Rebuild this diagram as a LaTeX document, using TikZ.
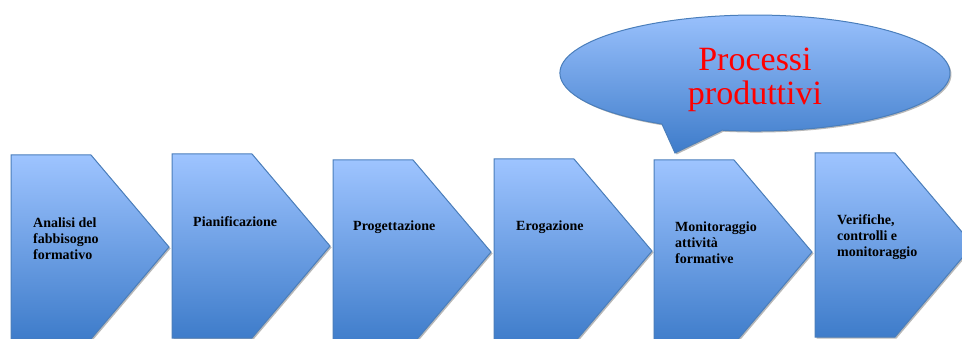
\documentclass[tikz,border=0pt]{standalone}
\usepackage{fontspec}
\setmainfont{Liberation Serif}
\usetikzlibrary{shadows}
\definecolor{boxtop}{RGB}{158,196,255}
\definecolor{boxbot}{RGB}{62,124,202}
\definecolor{boxedge}{RGB}{74,126,187}
\begin{document}
\begin{tikzpicture}[x=1pt,y=1pt,
 stepshape/.style={draw=boxedge, line width=1pt, top color=boxtop, bottom color=boxbot, line join=miter,
   drop shadow={shadow xshift=1.5pt, shadow yshift=-1.5pt, fill=gray!70, opacity=0.8}},
 steptext/.style={anchor=west, align=left, font=\fontsize{14}{16}\selectfont\bfseries, inner sep=0pt},
 bubbletext/.style={align=center, text=red, font=\fontsize{34}{34}\selectfont, inner sep=0pt}]
\useasboundingbox (0,0) rectangle (962,338);
\clip (0,0) rectangle (962,338);
\foreach \L/\T in {11/155,172/154,333/160,494/159,654/160,815/153}{
  \draw[stepshape] (\L,338-\T) -- ++(80,0) -- ++(78,-92) -- ++(-78,-92) -- ++(-80,0) -- cycle;
}
\node[steptext] (s1) at (33,99) {Analisi del\\fabbisogno\\formativo};
\node[steptext] (s2) at (193,116) {Pianificazione};
\node[steptext] (s3) at (353,111) {Progettazione};
\node[steptext] (s4) at (516,111) {Erogazione};
\node[steptext] (s5) at (675,95) {Monitoraggio\\attività\\formative};
\node[steptext] (s6) at (837,101) {Verifiche,\\controlli e\\monitoraggio};
% callout
\draw[stepshape] (722.1,207.8) -- (675,185) -- (661.9,214.0)
  arc[start angle=-118.5, end angle=-459.7, x radius=195, y radius=58] -- cycle;
\node[bubbletext] (proc) at (755,258) {Processi\\produttivi};
\end{tikzpicture}
\end{document}
